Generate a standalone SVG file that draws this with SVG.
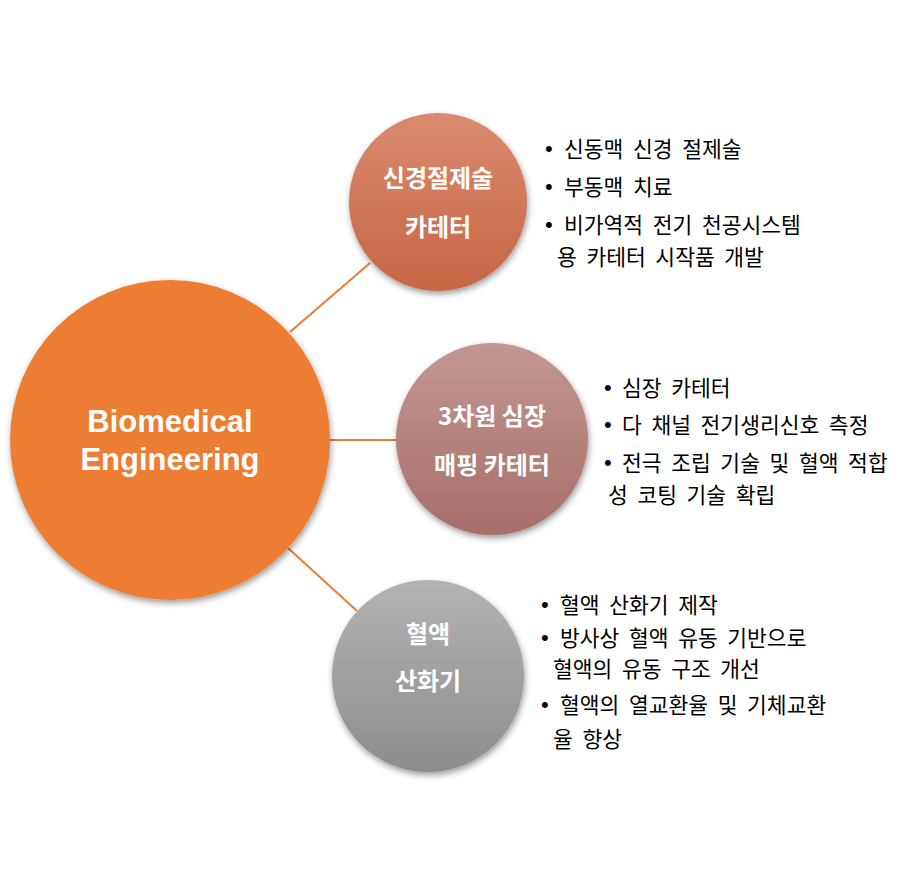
<svg xmlns="http://www.w3.org/2000/svg" width="906" height="886" viewBox="0 0 906 886">
<style>
.lbl{font-family:"Noto Sans CJK KR","Liberation Sans",sans-serif;font-weight:bold;font-size:24px;fill:#ffffff;text-anchor:middle}
.main{font-family:"Liberation Sans",Arial,sans-serif;font-weight:bold;font-size:31px;fill:#ffffff;text-anchor:middle}
.txt{font-family:"Noto Sans CJK KR","Liberation Sans",sans-serif;font-size:21.5px;fill:#000000;word-spacing:4.8px}
.bul{font-family:"Liberation Sans",Arial,sans-serif;font-size:22px;fill:#000000}
.conn{stroke:#ed7d31;stroke-width:2;fill:none}
</style>
<defs>
<filter id="sh" x="-20%" y="-20%" width="140%" height="140%">
<feDropShadow dx="1" dy="3" stdDeviation="3" flood-color="#000000" flood-opacity="0.4"/>
</filter>
<linearGradient id="g1" x1="0" y1="0" x2="0" y2="1">
<stop offset="0" stop-color="#da8a70"/>
<stop offset="1" stop-color="#c66644"/>
</linearGradient>
<linearGradient id="g2" x1="0" y1="0" x2="0" y2="1">
<stop offset="0" stop-color="#c39792"/>
<stop offset="1" stop-color="#a66f69"/>
</linearGradient>
<linearGradient id="g3" x1="0" y1="0" x2="0" y2="1">
<stop offset="0" stop-color="#b3b3b3"/>
<stop offset="1" stop-color="#8d8d8d"/>
</linearGradient>
</defs>
<rect width="906" height="886" fill="#ffffff"/>
<g id="connectors">
<line class="conn" x1="290" y1="332" x2="370" y2="263"/>
<line class="conn" x1="330" y1="440" x2="396" y2="440"/>
<line class="conn" x1="288" y1="548" x2="357" y2="611"/>
</g>
<g id="node-main">
<circle cx="170" cy="440" r="160" fill="#ed7d31" filter="url(#sh)"/>
<text class="main" x="170" y="432">Biomedical</text>
<text class="main" x="170" y="470">Engineering</text>
</g>
<g id="node-neuro">
<circle cx="438" cy="202" r="89" fill="url(#g1)" filter="url(#sh)"/>
<text class="lbl" x="438" y="187">신경절제술</text>
<text class="lbl" x="438" y="236">카테터</text>
</g>
<g id="node-mapping">
<circle cx="492" cy="439" r="96" fill="url(#g2)" filter="url(#sh)"/>
<text class="lbl" x="492" y="425">3차원 심장</text>
<text class="lbl" x="492" y="474">매핑 카테터</text>
</g>
<g id="node-oxygenator">
<circle cx="428" cy="676" r="96" fill="url(#g3)" filter="url(#sh)"/>
<text class="lbl" x="428" y="643">혈액</text>
<text class="lbl" x="428" y="690">산화기</text>
</g>
<g id="text-neuro">
<text class="bul" x="545" y="156">•</text>
<text class="txt" x="564" y="157">신동맥 신경 절제술</text>
<text class="bul" x="545" y="194">•</text>
<text class="txt" x="564" y="195">부동맥 치료</text>
<text class="bul" x="545" y="232">•</text>
<text class="txt" x="564" y="233">비가역적 전기 천공시스템</text>
<text class="txt" x="557" y="265">용 카테터 시작품 개발</text>
</g>
<g id="text-mapping">
<text class="bul" x="604" y="395">•</text>
<text class="txt" x="622" y="396">심장 카테터</text>
<text class="bul" x="604" y="432">•</text>
<text class="txt" x="622" y="433">다 채널 전기생리신호 측정</text>
<text class="bul" x="604" y="470">•</text>
<text class="txt" x="622" y="471">전극 조립 기술 및 혈액 적합</text>
<text class="txt" x="608" y="503">성 코팅 기술 확립</text>
</g>
<g id="text-oxygenator">
<text class="bul" x="541" y="612">•</text>
<text class="txt" x="560" y="613">혈액 산화기 제작</text>
<text class="bul" x="541" y="645">•</text>
<text class="txt" x="560" y="646">방사상 혈액 유동 기반으로</text>
<text class="txt" x="553" y="677">혈액의 유동 구조 개선</text>
<text class="bul" x="541" y="712">•</text>
<text class="txt" x="560" y="713">혈액의 열교환율 및 기체교환</text>
<text class="txt" x="553" y="747">율 향상</text>
</g>
</svg>
